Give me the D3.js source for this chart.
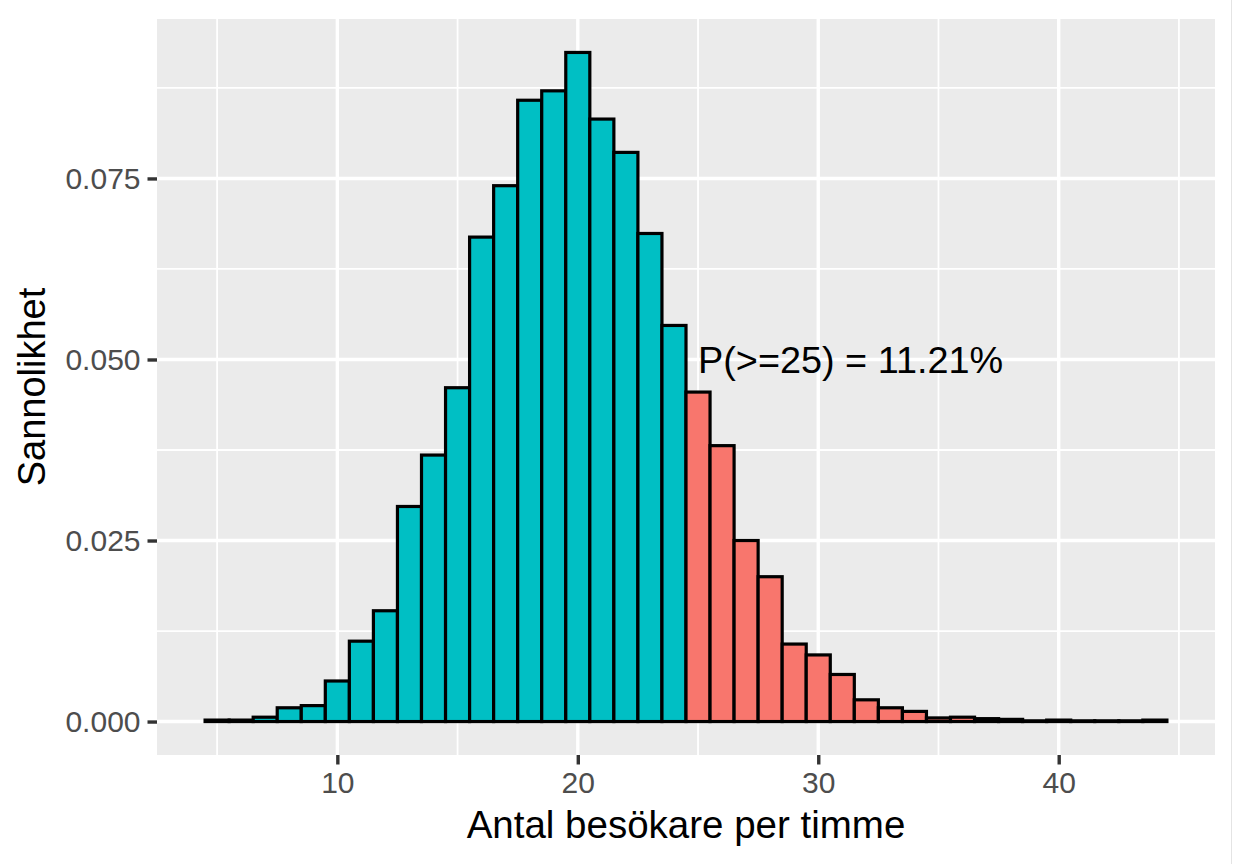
<!DOCTYPE html>
<html>
<head>
<meta charset="utf-8">
<script src="https://cdn.jsdelivr.net/npm/d3@7"></script>
<style>
  html, body { margin: 0; padding: 0; background: #ffffff; }
  svg { display: block; }
  text { font-family: "Liberation Sans", Arial, Helvetica, sans-serif; }
</style>
</head>
<body>
<script>
// ---- data ----
const visitors = [5,6,7,8,9,10,11,12,13,14,15,16,17,18,19,20,21,22,23,24,25,26,27,28,29,30,31,32,33,34,35,36,37,38,39,40,41,42,43,44];
const probability = [0.0002,0.0002,0.0006,0.0019,0.0022,0.0056,0.0111,0.0153,0.0297,0.0368,0.0461,0.0669,0.0740,0.0858,0.0871,0.0924,0.0832,0.0786,0.0674,0.0547,0.0455,0.0381,0.0250,0.0200,0.0107,0.0092,0.0065,0.0030,0.0019,0.0014,0.0005,0.0006,0.0004,0.0003,0.0001,0.0002,0.0001,0.0001,0.0001,0.0002];
const threshold = 25;
const xTicks = [10, 20, 30, 40];
const xMinor = [5, 15, 25, 35, 45];
const yTicks = [0, 0.025, 0.050, 0.075];
const yMinor = [0.0125, 0.0375, 0.0625, 0.0875];
const annotation = "P(>=25) = 11.21%";
const annotationPos = { x: 25, y: 0.05 };
const xTitle = "Antal besökare per timme";
const yTitle = "Sannolikhet";

// ---- layout ----
const W = 1234, H = 864;
const panel = { left: 157, right: 1215, top: 19, bottom: 755 };

const svg = d3.select("body").append("svg").attr("width", W).attr("height", H);

const xMin = d3.min(visitors) - 0.5, xMax = d3.max(visitors) + 0.5;
const xPad = (xMax - xMin) * 0.05;
const x = d3.scaleLinear().domain([xMin - xPad, xMax + xPad]).range([panel.left, panel.right]);
const yMax = d3.max(probability);
const yPad = yMax * 0.05;
const y = d3.scaleLinear().domain([-yPad, yMax + yPad]).range([panel.bottom, panel.top]);

// panel background
svg.append("rect")
  .attr("x", panel.left).attr("y", panel.top)
  .attr("width", panel.right - panel.left).attr("height", panel.bottom - panel.top)
  .attr("fill", "#EBEBEB");

const grid = svg.append("g");
// minor grid
grid.selectAll(".xminor").data(xMinor).join("line")
  .attr("x1", d => x(d)).attr("x2", d => x(d))
  .attr("y1", panel.top).attr("y2", panel.bottom)
  .attr("stroke", "#ffffff").attr("stroke-width", 1.8);
grid.selectAll(".yminor").data(yMinor).join("line")
  .attr("x1", panel.left).attr("x2", panel.right)
  .attr("y1", d => y(d)).attr("y2", d => y(d))
  .attr("stroke", "#ffffff").attr("stroke-width", 1.8);
// major grid
grid.selectAll(".xmajor").data(xTicks).join("line")
  .attr("x1", d => x(d)).attr("x2", d => x(d))
  .attr("y1", panel.top).attr("y2", panel.bottom)
  .attr("stroke", "#ffffff").attr("stroke-width", 3.4);
grid.selectAll(".ymajor").data(yTicks).join("line")
  .attr("x1", panel.left).attr("x2", panel.right)
  .attr("y1", d => y(d)).attr("y2", d => y(d))
  .attr("stroke", "#ffffff").attr("stroke-width", 3.4);

// bars
const data = visitors.map((v, i) => ({ v, p: probability[i] }));
svg.append("g").selectAll("rect").data(data).join("rect")
  .attr("x", d => x(d.v - 0.5))
  .attr("width", d => x(d.v + 0.5) - x(d.v - 0.5))
  .attr("y", d => y(d.p))
  .attr("height", d => y(0) - y(d.p))
  .attr("fill", d => d.v >= threshold ? "#F8766D" : "#00BFC4")
  .attr("stroke", "#000000")
  .attr("stroke-width", 3.2);

// annotation
svg.append("text")
  .attr("x", x(annotationPos.x))
  .attr("y", y(annotationPos.y))
  .attr("dy", "0.36em")
  .attr("font-size", 37.8)
  .attr("fill", "#000000")
  .text(annotation);

// axes
const xAxis = d3.axisBottom(x).tickValues(xTicks).tickFormat(d3.format("d")).tickSize(9.5).tickPadding(7);
const gx = svg.append("g").attr("transform", `translate(0,${panel.bottom})`).call(xAxis);
gx.select(".domain").remove();
gx.selectAll(".tick line").attr("stroke", "#333333").attr("stroke-width", 3.4);
gx.selectAll(".tick text").attr("fill", "#4D4D4D").attr("font-size", 30)
  .attr("font-family", "'Liberation Sans', Arial, sans-serif");

const yAxis = d3.axisLeft(y).tickValues(yTicks).tickFormat(d3.format(".3f")).tickSize(9.5).tickPadding(7);
const gy = svg.append("g").attr("transform", `translate(${panel.left},0)`).call(yAxis);
gy.select(".domain").remove();
gy.selectAll(".tick line").attr("stroke", "#333333").attr("stroke-width", 3.4);
gy.selectAll(".tick text").attr("fill", "#4D4D4D").attr("font-size", 30)
  .attr("font-family", "'Liberation Sans', Arial, sans-serif");

// axis titles
svg.append("text")
  .attr("x", (panel.left + panel.right) / 2)
  .attr("y", 838)
  .attr("text-anchor", "middle")
  .attr("font-size", 38.5)
  .attr("fill", "#000000")
  .text(xTitle);

svg.append("text")
  .attr("transform", `translate(45,${(panel.top + panel.bottom) / 2}) rotate(-90)`)
  .attr("text-anchor", "middle")
  .attr("font-size", 38)
  .attr("fill", "#000000")
  .text(yTitle);

// faint right border line
svg.append("line")
  .attr("x1", 1231.5).attr("x2", 1231.5).attr("y1", 0).attr("y2", H)
  .attr("stroke", "#E4E4E4").attr("stroke-width", 1);
</script>
</body>
</html>
